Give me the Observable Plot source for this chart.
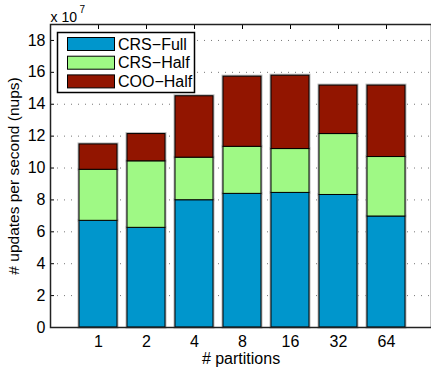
<!DOCTYPE html>
<html>
<head>
<meta charset="utf-8">
<script src="https://cdn.jsdelivr.net/npm/d3@7"></script>
<script src="https://cdn.jsdelivr.net/npm/@observablehq/plot@0.6"></script>
<style>
  html, body { margin: 0; padding: 0; background: #fff; }
  #chart svg { display: block; }
</style>
</head>
<body>
<div id="chart"></div>
<script>
// Data (units of 10^7 updates per second)
const partitions = ["1", "2", "4", "8", "16", "32", "64"];
const seriesNames = ["CRS−Full", "CRS−Half", "COO−Half"];
const crsFull = [6.69, 6.25, 7.98, 8.38, 8.44, 8.31, 6.96];
const crsHalf = [3.20, 4.17, 2.67, 2.95, 2.75, 3.82, 3.73];
const cooHalf = [1.59, 1.71, 3.85, 4.40, 4.60, 3.04, 4.48];
const seriesColors = ["#0096cc", "#9ff985", "#921500"];
const yTicks = [0, 2, 4, 6, 8, 10, 12, 14, 16, 18];

const rows = [];
[crsFull, crsHalf, cooHalf].forEach((vals, s) => {
  partitions.forEach((p, i) => rows.push({partition: p, series: seriesNames[s], value: vals[i]}));
});

const font = "Liberation Sans, Arial, Helvetica, sans-serif";

const chart = Plot.plot({
  width: 431,
  height: 373,
  marginTop: 24,
  marginBottom: 46,
  marginLeft: 50,
  marginRight: 0,
  style: {fontFamily: font, fontSize: "16px", color: "#000", background: "#fff"},
  x: {type: "band", domain: partitions, range: [50, 434], paddingInner: 0.2, paddingOuter: 0.6},
  y: {domain: [0, 19]},
  color: {domain: seriesNames, range: seriesColors},
  marks: [
    Plot.gridY(yTicks, {stroke: "#777", strokeOpacity: 1, strokeDasharray: "1,6"}),
    Plot.barY(rows, Plot.stackY({x: "partition", y: "value", fill: "series", stroke: "#bbb", strokeWidth: 3})),
    Plot.barY(rows, Plot.stackY({x: "partition", y: "value", fill: "series", stroke: "#000", strokeWidth: 1})),
    Plot.axisY(yTicks, {anchor: "left", tickSize: 0, tickPadding: 5, label: null, fontSize: 16}),
    Plot.axisY(yTicks, {anchor: "left", tickSize: -4, tickFormat: () => "", label: null}),
    Plot.axisX({anchor: "bottom", tickSize: 0, tickPadding: 8, label: null, fontSize: 16}),
    Plot.axisX({anchor: "top", tickSize: -4, tickFormat: () => "", label: null}),
    Plot.frame({stroke: "#222", strokeWidth: 1.5}),
    Plot.text(["# partitions"], {frameAnchor: "bottom", textAnchor: "middle", lineAnchor: "middle", dy: 31, fontSize: 16}),
    Plot.text(["# updates per second (nups)"], {frameAnchor: "left", textAnchor: "middle", lineAnchor: "middle", rotate: -90, dx: -36, fontSize: 15.5}),
    Plot.text(["x 10"], {frameAnchor: "top-left", textAnchor: "start", dy: -12, dx: 0, fontSize: 14}),
    Plot.text(["7"], {frameAnchor: "top-left", textAnchor: "start", dy: -19, dx: 29, fontSize: 10})
  ]
});

document.getElementById("chart").appendChild(chart);

// Legend inside the axes (top-left)
const svg = d3.select(chart);
const lg = svg.append("g").attr("font-family", font).attr("font-size", 16).attr("text-anchor", "start");
lg.append("rect").attr("x", 57.5).attr("y", 32.5).attr("width", 137).attr("height", 60)
  .attr("fill", "#fff").attr("stroke", "#000").attr("stroke-width", 1.5);
seriesNames.forEach((name, i) => {
  const cy = 44 + i * 18.7;
  lg.append("rect").attr("x", 67.5).attr("y", cy - 6.5).attr("width", 47).attr("height", 13)
    .attr("fill", seriesColors[i]).attr("stroke", "#000").attr("stroke-width", 1);
  lg.append("text").attr("x", 118).attr("y", cy).attr("dy", "0.36em").attr("text-anchor", "start").text(name);
});
</script>
</body>
</html>
